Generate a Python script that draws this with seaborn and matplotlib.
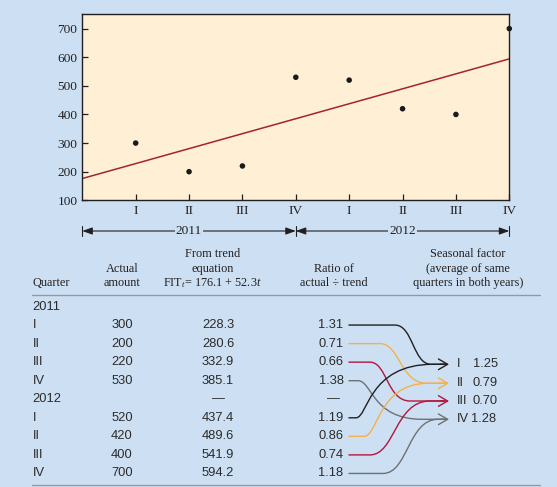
import matplotlib.pyplot as plt
import seaborn as sns
from matplotlib.path import Path
from matplotlib.patches import PathPatch

sns.set_theme(style='ticks')
plt.rcParams['font.family'] = ['Liberation Serif', 'DejaVu Serif']
plt.rcParams['mathtext.fontset'] = 'custom'
plt.rcParams['mathtext.rm'] = 'Liberation Serif'
plt.rcParams['mathtext.it'] = 'Liberation Serif:italic'

# data
years = ['2011', '2012']
quarters = ['I', 'II', 'III', 'IV']
period = [1, 2, 3, 4, 5, 6, 7, 8]
actual = [300, 200, 220, 530, 520, 420, 400, 700]
intercept = 176.1
trend = [228.3, 280.6, 332.9, 385.1, 437.4, 489.6, 541.9, 594.2]
ratios = ['1.31', '0.71', '0.66', '1.38', '1.19', '0.86', '0.74', '1.18']
seasonal = ['1.25', '0.79', '0.70', '1.28']

BG = '#cde0f3'
INK = '#231f20'
quarter_colors = ['#231f20', '#f5b04a', '#b3163d', '#6f7073']

fig = plt.figure(figsize=(5.57, 4.87), dpi=100, facecolor=BG)

# ---- top chart ----
ax = fig.add_axes([82.3 / 557, 1 - 200.3 / 487, 427 / 557, 186 / 487])
ax.set_facecolor('#ffefd4')
sns.lineplot(x=[0] + period, y=[intercept] + trend, ax=ax,
             color='#a3252b', lw=1.1)
sns.scatterplot(x=period, y=actual, ax=ax, color='#1a1a1a', s=16,
                edgecolor='none', clip_on=False, zorder=4)
ax.set_xlim(0, 8)
ax.set_ylim(100, 750)
ax.set_yticks(range(100, 800, 100))
ax.set_xticks(period)
ax.set_xticklabels(quarters * 2)
ax.tick_params(direction='in', length=4.5, width=0.9, colors=INK,
               labelsize=9.6, pad=3.5)
for s in ax.spines.values():
    s.set_visible(True)
    s.set_color(INK)
    s.set_linewidth(1.0)
ax.set_xlabel('')
ax.set_ylabel('')

# year brackets under the axis
trans = ax.get_xaxis_transform()
yb = (200.3 - 231) / 186
for k, yr in enumerate(years):
    x0, x1 = 4 * k, 4 * k + 4
    ax.annotate('', xy=(x0, yb), xytext=(x1, yb), xycoords=trans,
                textcoords=trans, annotation_clip=False,
                arrowprops=dict(arrowstyle='<|-|>,head_length=0.5,head_width=0.18',
                                color=INK, lw=0.8, shrinkA=0, shrinkB=0))
    ax.text((x0 + x1) / 2, yb, yr, transform=trans, ha='center', va='center',
            fontsize=9.6, color=INK, zorder=6,
            bbox=dict(fc=BG, ec='none', pad=0.6))
for x in [0, 4, 8]:
    ax.plot([x, x], [yb - 0.025, yb + 0.025], transform=trans, color=INK,
            lw=0.8, clip_on=False)

# ---- table below, drawn in pixel coordinates ----
ov = fig.add_axes([0, 0, 1, 1], zorder=-1)
ov.set_xlim(0, 557)
ov.set_ylim(487, 0)
ov.axis('off')

hdr = dict(fontsize=8.8, color=INK, va='center', ha='center')
ov.text(32.7, 282.7, 'Quarter', **{**hdr, 'ha': 'left'})
ov.text(122, 269.3, 'Actual', **hdr)
ov.text(122, 282.7, 'amount', **hdr)
ov.text(212.5, 254, 'From trend', **hdr)
ov.text(212.5, 269.3, 'equation', **hdr)
ov.text(212, 282.7, r'FIT$_{t}$= 176.1 + 52.3$t$', **hdr)
ov.text(334, 269.3, 'Ratio of', **hdr)
ov.text(334, 282.7, 'actual ÷ trend', **hdr)
ov.text(468, 254, 'Seasonal factor', **hdr)
ov.text(468, 269.3, '(average of same', **hdr)
ov.text(468, 282.7, 'quarters in both years)', **hdr)
ov.plot([32, 540], [295, 295], color='#8f9aa6', lw=1)
ov.plot([32, 540], [485, 485], color='#8f9aa6', lw=1)

body = dict(fontsize=9.3, color='#2b2b2b', va='center',
            family=['Liberation Sans', 'DejaVu Sans'])
row_y = [306.5 + 18.55 * i for i in range(10)]
ratio_y = []
for k, yr in enumerate(years):
    y0 = row_y[5 * k]
    ov.text(32.7, y0, yr, ha='left', **body)
    if k == 1:
        ov.text(218, y0, '—', ha='center', **body)
        ov.text(333, y0, '—', ha='center', **body)
    for q in range(4):
        i = 4 * k + q
        y = row_y[5 * k + 1 + q]
        ratio_y.append(y)
        ov.text(32.7, y, quarters[q], ha='left', **body)
        ov.text(122, y, str(actual[i]), ha='center', **body)
        ov.text(218, y, f'{trend[i]:.1f}', ha='center', **body)
        ov.text(343.5, y, ratios[i], ha='right', **body)

# seasonal factor labels
seas_y = [364.3, 383.3, 401, 419.3]
for q in range(4):
    ov.text(456.7, seas_y[q], quarters[q], ha='left', **body)
    ov.text(471 if q == 3 else 472.5, seas_y[q], seasonal[q], ha='left', **body)

# connectors from each ratio to its seasonal factor
bend = [(413, 18, 18), (400, 20, 27), (387, 17, 23), (372, 14, 50),
        (368, 12, 65), (378, 14, 50), (395, 25, 35), (408, 25, 30)]
for i, (xv, w0, w1) in enumerate(bend):
    q = i % 4
    y0, y1 = ratio_y[i], seas_y[q]
    verts = [(348.5, y0), (xv - w0, y0), (xv, y0), (xv, y1),
             (xv + w1, y1), (445, y1)]
    codes = [Path.MOVETO, Path.LINETO, Path.CURVE4, Path.CURVE4,
             Path.CURVE4, Path.LINETO]
    ov.add_patch(PathPatch(Path(verts, codes), fc='none',
                           ec=quarter_colors[q], lw=1.0))
for q in range(4):
    ov.annotate('', xy=(449, seas_y[q]), xytext=(440, seas_y[q]),
                arrowprops=dict(arrowstyle='->,head_length=0.55,head_width=0.32',
                                color=quarter_colors[q], lw=1.0,
                                shrinkA=0, shrinkB=0))

fig.savefig('out.png', dpi=100, facecolor=BG)
